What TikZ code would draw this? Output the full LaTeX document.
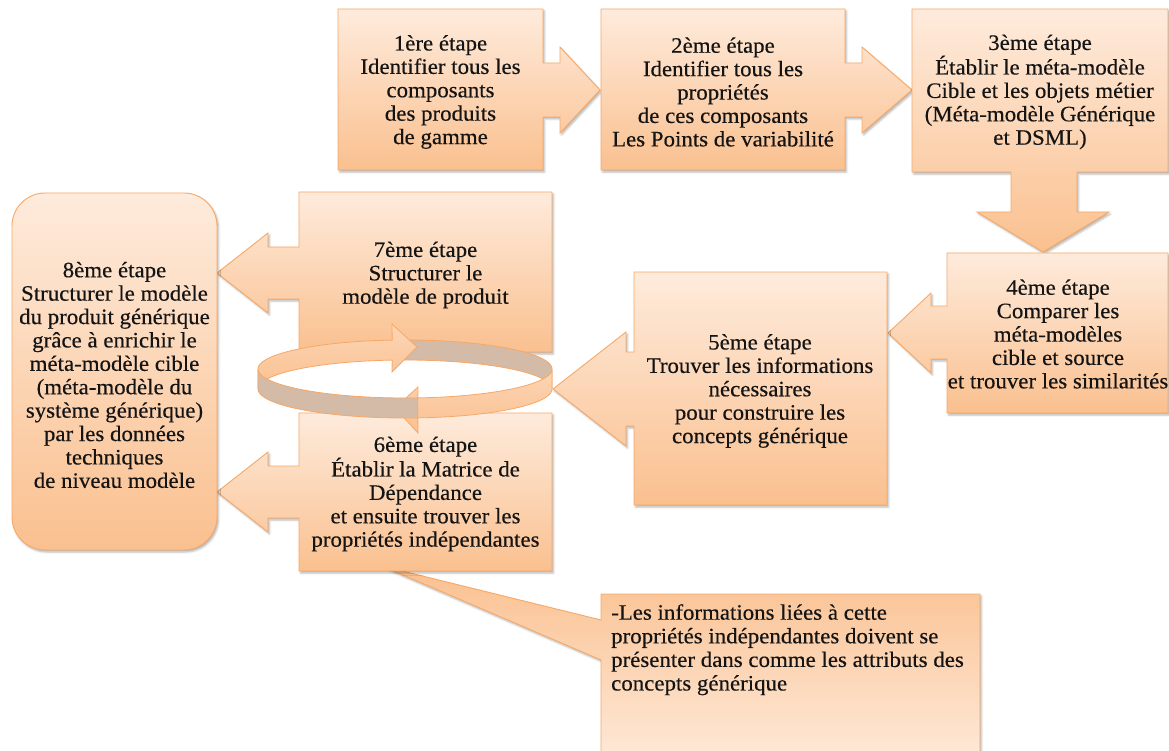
\documentclass[tikz,border=0pt]{standalone}
\usepackage{fontspec}
\setmainfont[FakeStretch=1.04, FakeBold=0.35]{Liberation Serif}
\usetikzlibrary{shadows.blur}

\definecolor{lightpeach}{HTML}{FEEBDC}
\definecolor{deeppeach}{HTML}{FAC08F}
\definecolor{edgeorange}{HTML}{F7A866}
\definecolor{ringgray}{HTML}{D3BBA7}
\definecolor{inktext}{HTML}{141414}

\tikzset{
  panel/.style={draw=edgeorange, line width=0.9pt, line join=miter,
    top color=lightpeach, bottom color=deeppeach,
    blur shadow={shadow xshift=1.5pt, shadow yshift=-2pt,
                 shadow blur radius=2pt, shadow opacity=30}},
  panelrev/.style={panel, top color=deeppeach, bottom color=lightpeach},
  ringband/.style={draw=edgeorange, line width=0.8pt, line join=miter,
    top color=lightpeach!50!deeppeach, bottom color=deeppeach},
  ringback/.style={draw=edgeorange, line width=0.8pt, fill=ringgray},
  steptext/.style={align=center, text=inktext, inner sep=0pt,
    font=\fontsize{22}{23.4}\selectfont},
  notetext/.style={align=left, text=inktext, inner sep=0pt,
    font=\fontsize{22}{23.6}\selectfont},
}

\begin{document}
\begin{tikzpicture}[x=1pt, y=-1pt]
\useasboundingbox (0,0) rectangle (1169,751);

% note box with its pointer towards step 6
\path[panelrev] (601,594) -- (980,594) -- (980,770) -- (601,770) -- (601,660)
  -- (382,566) -- (601,620) -- cycle;

% step 1 with arrow to step 2
\path[panel] (338,9) -- (543,9) -- (543,63) -- (560,63) -- (560,47) -- (600,90)
  -- (560,133) -- (560,117) -- (543,117) -- (543,170) -- (338,170) -- cycle;
% step 2 with arrow to step 3
\path[panel] (601,9) -- (845,9) -- (845,63) -- (862,63) -- (862,47) -- (912,90)
  -- (862,133) -- (862,117) -- (845,117) -- (845,170) -- (601,170) -- cycle;
% step 3 with arrow down to step 4
\path[panel] (912,9) -- (1168,9) -- (1168,172) -- (1077,172) -- (1077,212)
  -- (1109,212) -- (1043,252) -- (977,212) -- (1011,212) -- (1011,172)
  -- (912,172) -- cycle;
% step 4 with arrow to step 5
\path[panel] (947,253) -- (1168,253) -- (1168,413) -- (947,413) -- (947,359)
  -- (931,359) -- (931,373) -- (888,333) -- (931,293) -- (931,306)
  -- (947,306) -- cycle;
% step 5 with arrow to the loop
\path[panel] (634,272) -- (887,272) -- (887,505) -- (634,505) -- (634,426)
  -- (626,426) -- (626,446) -- (553,389) -- (626,332) -- (626,352)
  -- (634,352) -- cycle;
% step 7 with arrow to step 8
\path[panel] (299,192) -- (552,192) -- (552,352) -- (299,352) -- (299,299)
  -- (268,299) -- (268,313) -- (217,273) -- (268,233) -- (268,247)
  -- (299,247) -- cycle;
% step 6 with arrow to step 8
\path[panel] (299,413) -- (552,413) -- (552,571) -- (299,571) -- (299,518)
  -- (268,518) -- (268,532) -- (217,492) -- (268,452) -- (268,466)
  -- (299,466) -- cycle;
% step 8
\path[panel, rounded corners=33pt] (12,193) rectangle (217,550);

% loop between steps 6 and 7
\path[ringback]
  plot[domain=95:0, samples=40, variable=\t] ({405+147*cos(\t)}, {369-29*sin(\t)})
  -- plot[domain=0:95, samples=40, variable=\t] ({405+147*cos(\t)}, {389-29*sin(\t)})
  -- cycle;
\path[ringband]
  plot[domain=180:95, samples=40, variable=\t] ({405+147*cos(\t)}, {369-29*sin(\t)})
  -- (392,324) -- (417,347) -- (392,372)
  -- plot[domain=95:180, samples=40, variable=\t] ({405+147*cos(\t)}, {389-29*sin(\t)})
  -- cycle;
\path[ringband]
  plot[domain=0:-85, samples=40, variable=\t] ({405+147*cos(\t)}, {369-29*sin(\t)})
  -- (418,387) -- (395,408) -- (418,433)
  -- plot[domain=-85:0, samples=40, variable=\t] ({405+147*cos(\t)}, {389-29*sin(\t)})
  -- cycle;
\path[ringback]
  plot[domain=-180:-85, samples=40, variable=\t] ({405+147*cos(\t)}, {369-29*sin(\t)})
  -- plot[domain=-85:-180, samples=40, variable=\t] ({405+147*cos(\t)}, {389-29*sin(\t)})
  -- cycle;

% texts
\node[steptext] (s1) at (440.5,92) {1ère étape\\Identifier tous les\\composants\\des produits\\de gamme};
\node[steptext] (s2) at (723,92) {2ème étape\\Identifier tous les\\propriétés\\de ces composants\\Les Points de variabilité};
\node[steptext] (s3) at (1040,92) {3ème étape\\Établir le méta-modèle\\Cible et les objets métier\\(Méta-modèle Générique\\et DSML)};
\node[steptext] (s4) at (1058,334) {4ème étape\\Comparer les\\méta-modèles\\cible et source\\et trouver les similarités};
\node[steptext] (s5) at (760,391) {5ème étape\\Trouver les informations\\nécessaires\\pour construire les\\concepts générique};
\node[steptext] (s6) at (425.5,494) {6ème étape\\Établir la Matrice de\\Dépendance\\et ensuite trouver les\\propriétés indépendantes};
\node[steptext] (s7) at (425.5,275) {7ème étape\\Structurer le\\modèle de produit};
\node[steptext] (s8) at (114.5,375) {8ème étape\\Structurer le modèle\\du produit générique\\grâce à enrichir le\\méta-modèle cible\\(méta-modèle du\\système générique)\\par les données\\techniques\\de niveau modèle};
\node[notetext, anchor=north west] (note) at (611,604) {-Les informations liées à cette\\propriétés indépendantes doivent se\\présenter dans comme les attributs des\\concepts générique};
\end{tikzpicture}
\end{document}
